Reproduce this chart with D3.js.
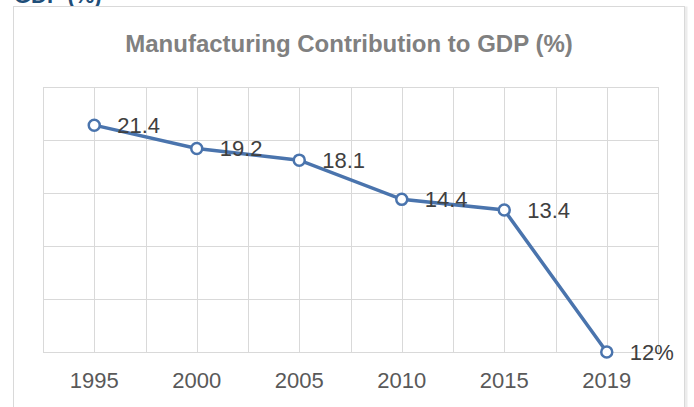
<!DOCTYPE html>
<html>
<meta charset="utf-8">
<head>
<title>Manufacturing Contribution to GDP</title>
<style>
body {
  margin: 0;
  background: #fff;
  font-family: "Liberation Sans", Arial, sans-serif;
}
.grid line {
  stroke: #d9d9d9;
  stroke-width: 1px;
}
.line {
  fill: none;
  stroke: #4a74ad;
  stroke-width: 3.5px;
}
.dot {
  fill: #fff;
  stroke: #4a74ad;
  stroke-width: 2.5px;
}
.valLabel {
  font-size: 22px;
  fill: #404040;
}
.yearLabel {
  font-size: 22px;
  fill: #595959;
  text-anchor: middle;
}
</style>
</head>
<body>
<script src="https://d3js.org/d3.v7.min.js"></script>
<script>

// data
var years = ["1995", "2000", "2005", "2010", "2015", "2019"];
// plotted values (2019 point sits on the baseline in the original)
var values = [21.4, 19.2, 18.1, 14.4, 13.4, 0];
var valueLabels = ["21.4", "19.2", "18.1", "14.4", "13.4", "12%"];
var yTicks = [0, 5, 10, 15, 20, 25];

var W = 694, H = 407;
var plot = {left: 43, right: 658, top: 87, bottom: 352};

var svg = d3.select("body").append("svg")
    .attr("width", W)
    .attr("height", H);

// cut-off heading above the chart box
svg.append("text")
    .attr("x", 14)
    .attr("y", 3)
    .style("font-size", "22px")
    .style("font-weight", "bold")
    .style("fill", "#1f4e79")
    .text("GDP (%)");

// chart box with a soft edge
svg.append("rect")
    .attr("x", 15.5).attr("y", 8.5)
    .attr("width", 670).attr("height", 420)
    .style("fill", "none")
    .style("stroke", "#ececec")
    .style("stroke-width", 4);
svg.append("rect")
    .attr("x", 13.5).attr("y", 6.5)
    .attr("width", 671).attr("height", 420)
    .style("fill", "#fff")
    .style("stroke", "#d9d9d9");

svg.append("text")
    .attr("x", 349)
    .attr("y", 52)
    .style("text-anchor", "middle")
    .style("font-size", "24px")
    .style("font-weight", "bold")
    .style("fill", "#808080")
    .text("Manufacturing Contribution to GDP (%)");

// scales
var x = d3.scaleBand()
    .domain(years)
    .range([plot.left, plot.right])
    .padding(0);

var y = d3.scaleLinear()
    .domain([0, 25])
    .range([plot.bottom, plot.top]);

var half = x.bandwidth() / 2;
var cx = function(d) { return x(d) + half; };

// gridlines: band edges and band centres
var vx = [];
years.forEach(function(d) { vx.push(x(d), x(d) + half); });
vx.push(plot.right);

var grid = svg.append("g").attr("class", "grid");
grid.selectAll(".v")
  .data(vx).enter()
  .append("line")
    .attr("x1", function(d) { return Math.round(d) + 0.5; })
    .attr("x2", function(d) { return Math.round(d) + 0.5; })
    .attr("y1", plot.top)
    .attr("y2", plot.bottom);
grid.selectAll(".h")
  .data(yTicks).enter()
  .append("line")
    .attr("x1", plot.left)
    .attr("x2", plot.right + 1)
    .attr("y1", function(d) { return Math.round(y(d)) + 0.5; })
    .attr("y2", function(d) { return Math.round(y(d)) + 0.5; });

// category labels
svg.append("g").selectAll("text")
  .data(years).enter()
  .append("text")
    .attr("class", "yearLabel")
    .attr("x", cx)
    .attr("y", plot.bottom + 36)
    .text(function(d) { return d; });

var pts = years.map(function(d, i) {
  return {year: d, value: values[i], label: valueLabels[i]};
});

var line = d3.line()
    .x(function(d) { return cx(d.year); })
    .y(function(d) { return y(d.value); });

svg.append("path")
    .datum(pts)
    .attr("class", "line")
    .attr("d", line);

svg.selectAll(".dot")
  .data(pts).enter()
  .append("circle")
    .attr("class", "dot")
    .attr("cx", function(d) { return cx(d.year); })
    .attr("cy", function(d) { return y(d.value); })
    .attr("r", 5.5);

svg.selectAll(".valLabel")
  .data(pts).enter()
  .append("text")
    .attr("class", "valLabel")
    .attr("x", function(d) { return cx(d.year) + 23; })
    .attr("y", function(d) { return y(d.value); })
    .attr("dy", "0.36em")
    .text(function(d) { return d.label; });

</script>
</body>
</html>
